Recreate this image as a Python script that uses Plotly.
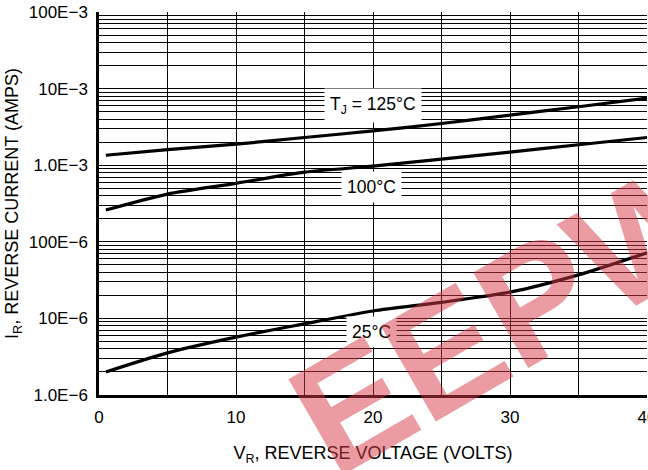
import math
import plotly.graph_objects as go

# Data
vr = [0.5, 5, 10, 15, 20, 25, 30, 35, 40]
ir_125 = [1.35e-3, 1.6e-3, 1.88e-3, 2.3e-3, 2.8e-3, 3.5e-3, 4.5e-3, 5.8e-3, 7.5e-3]
ir_100 = [2.6e-4, 4.2e-4, 5.8e-4, 8.1e-4, 9.7e-4, 1.2e-3, 1.48e-3, 1.85e-3, 2.3e-3]
ir_25 = [2.0e-6, 3.55e-6, 5.7e-6, 8.5e-6, 1.25e-5, 1.62e-5, 2.2e-5, 3.7e-5, 7.2e-5]

y_tickvals = [1e-6, 1e-5, 1e-4, 1e-3, 1e-2, 1e-1]
y_ticktext = ["1.0E\u22126", "10E\u22126", "100E\u22126", "1.0E\u22123", "10E\u22123", "100E\u22123"]
x_tickvals = [0, 10, 20, 30, 40]
x_ticktext = ["0", "10", "20", "30", "40"]

curve_labels = ["T<sub>J</sub> = 125\u00b0C", "100\u00b0C", "25\u00b0C"]
label_x = [20.0, 19.9, 19.9]
label_y = [6.1e-3, 5.2e-4, 6.6e-6]

minor_y = [m * 10.0 ** e for e in range(-6, -1) for m in range(2, 10)]

FONT = "Liberation Sans, Arial, sans-serif"

fig = go.Figure()
for ys in (ir_125, ir_100, ir_25):
    fig.add_trace(go.Scatter(x=vr, y=ys, mode="lines",
                             line=dict(color="black", width=3.2, shape="spline", smoothing=0.7),
                             showlegend=False, hoverinfo="skip"))

for t, lx, ly in zip(curve_labels, label_x, label_y):
    fig.add_annotation(x=lx, y=math.log10(ly), yref="y", xref="x", text=t, showarrow=False,
                       font=dict(family=FONT, size=17.5, color="black"),
                       bgcolor="white", borderpad=5)

# watermark
fig.add_annotation(x=0.75, y=0.21, xref="paper", yref="paper", text="<b>EEPW</b>",
                   showarrow=False, textangle=-30, xanchor="center", yanchor="middle",
                   font=dict(family="Liberation Sans, Arial", size=160, color="rgba(215,55,70,0.5)"))

fig.update_layout(
    width=648, height=470,
    margin=dict(l=99, r=1, t=12, b=75),
    paper_bgcolor="white", plot_bgcolor="white",
    font=dict(family=FONT, size=17, color="black"),
    xaxis=dict(range=[0, 40], tickvals=x_tickvals, ticktext=x_ticktext,
               showgrid=True, gridcolor="black", gridwidth=1,
               minor=dict(dtick=5, showgrid=True, gridcolor="black", gridwidth=1),
               showline=True, linecolor="black", linewidth=2.5,
               ticks="", ticklabelstandoff=5, ticklabeloverflow="allow",
               zeroline=False, automargin=False,
               title=dict(text="V<sub>R</sub>, REVERSE VOLTAGE (VOLTS)", standoff=21,
                          font=dict(family=FONT, size=18))),
    yaxis=dict(type="log", range=[-6, -1], tickvals=y_tickvals, ticktext=y_ticktext,
               showgrid=True, gridcolor="black", gridwidth=1,
               minor=dict(tickvals=minor_y, showgrid=True, gridcolor="black", gridwidth=1),
               showline=True, linecolor="black", linewidth=2.5,
               ticks="", ticklabelstandoff=5, ticklabeloverflow="allow",
               zeroline=False, automargin=False,
               title=dict(text="I<sub>R</sub>, REVERSE CURRENT (AMPS)", standoff=6,
                          font=dict(family=FONT, size=18))),
)

fig.write_html("out.html", config={"displayModeBar": False},
               post_script="document.body.style.margin='0';document.body.style.overflow='hidden';")
